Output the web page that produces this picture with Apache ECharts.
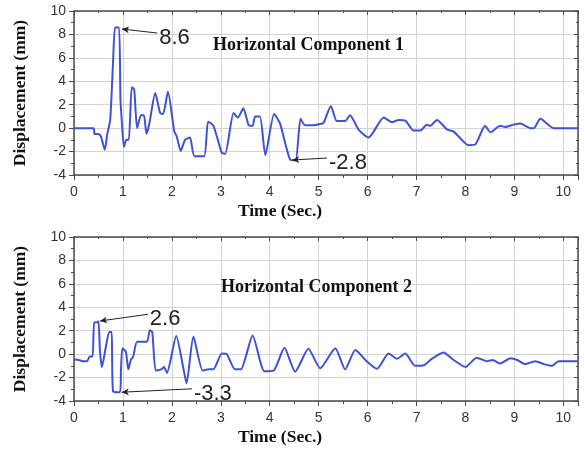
<!DOCTYPE html>
<html>
<head>
<meta charset="utf-8">
<script src="https://cdn.jsdelivr.net/npm/echarts@6/dist/echarts.min.js"></script>
<style>
  html, body { margin: 0; padding: 0; background: #fff; }
  #chart { width: 584px; height: 452px; }
</style>
</head>
<body>
<div id="chart"></div>
<script>
// time (s), displacement (mm)
var comp1 = [
  [0,0],[0.40,0],[0.42,-0.5],[0.50,-0.5],[0.55,-0.7],[0.63,-1.85],[0.68,-0.5],[0.74,0.7],
  [0.80,5.8],[0.84,8.6],[0.92,8.6],[0.95,2.4],[0.98,0.4],[1.02,-1.6],[1.07,-1.0],[1.12,-1.0],
  [1.18,3.5],[1.23,3.3],[1.29,0.0],[1.37,1.1],[1.43,1.1],[1.48,-0.5],[1.54,0.4],[1.66,3.0],
  [1.76,1.3],[1.82,1.2],[1.92,3.1],[2.05,-0.3],[2.10,-0.7],[2.18,-1.95],[2.27,-1.0],[2.37,-0.8],
  [2.46,-2.4],[2.66,-2.4],[2.74,0.55],[2.85,0.2],[3.02,-2.1],[3.09,-2.2],[3.26,1.3],[3.35,0.9],
  [3.46,1.7],[3.57,0.25],[3.65,0.2],[3.70,1.0],[3.80,1.0],[3.91,-2.3],[4.09,1.2],[4.21,0.4],
  [4.42,-2.7],[4.53,-2.75],[4.63,0.8],[4.72,0.25],[4.90,0.25],[5.03,0.35],[5.10,0.45],[5.25,1.9],
  [5.37,0.6],[5.54,0.6],[5.64,1.1],[5.82,-0.15],[6.02,-0.8],[6.33,0.9],[6.50,0.5],[6.63,0.7],
  [6.77,0.65],[6.94,-0.2],[7.08,-0.2],[7.21,0.3],[7.28,0.2],[7.42,0.7],[7.62,-0.1],[7.76,-0.3],
  [7.96,-1.15],[8.06,-1.45],[8.20,-1.4],[8.40,0.2],[8.51,-0.35],[8.71,0.2],[8.81,0.1],[8.98,0.3],
  [9.12,0.4],[9.33,0.0],[9.40,0.0],[9.53,0.8],[9.80,0.0],[10.3,0.0]
];
var comp2 = [
  [0,-0.45],[0.10,-0.5],[0.18,-0.6],[0.27,-0.6],[0.32,-0.2],[0.38,-0.2],[0.41,2.7],[0.46,2.7],
  [0.50,2.8],[0.53,0.3],[0.57,-1.1],[0.65,0.6],[0.72,1.9],[0.77,1.9],[0.80,-3.2],[0.94,-3.25],
  [0.96,-1.4],[0.99,0.5],[1.06,0.2],[1.11,-1.3],[1.16,-0.5],[1.21,-0.2],[1.29,1.05],[1.49,1.05],
  [1.55,2.05],[1.60,1.9],[1.67,-1.4],[1.78,-1.3],[1.84,-1.1],[1.90,-1.6],[2.09,1.55],[2.23,-1.1],
  [2.30,-2.5],[2.44,1.5],[2.63,-1.4],[2.75,-1.3],[2.85,-1.3],[3.02,0.05],[3.12,0.0],[3.29,-1.3],
  [3.41,-1.3],[3.65,1.6],[3.89,-1.45],[4.08,-1.4],[4.30,0.55],[4.52,-1.5],[4.79,0.45],[5.03,-1.2],
  [5.34,0.5],[5.54,-1.3],[5.75,0.35],[5.98,-0.6],[6.19,-1.25],[6.43,0.05],[6.60,-0.4],[6.77,0.05],
  [6.97,-1.0],[7.15,-0.95],[7.31,-0.4],[7.55,0.15],[7.76,-0.5],[8.00,-1.1],[8.23,-0.3],[8.44,-0.6],
  [8.56,-0.5],[8.71,-0.8],[8.92,-0.35],[9.06,-0.5],[9.22,-0.85],[9.43,-0.6],[9.60,-0.85],[9.77,-1.0],
  [9.90,-0.6],[10.3,-0.6]
];
// callouts: text, arrow tip, line end
var notes1 = [
  { text: '8.6', tip: [0.98, 8.46], end: [1.70, 8.12] },
  { text: '-2.8', tip: [4.46, -2.72], end: [5.17, -2.55] }
];
var notes2 = [
  { text: '2.6', tip: [0.53, 2.83], end: [1.51, 3.4] },
  { text: '-3.3', tip: [0.975, -3.25], end: [2.41, -2.96] }
];
var titles = ['Horizontal Component 1', 'Horizontal Component 2'];
var xName = 'Time (Sec.)';
var yName = 'Displacement (mm)';

var serif = '"Liberation Serif", "DejaVu Serif", serif';
var sans = '"Liberation Sans", Arial, sans-serif';
var boxColor = '#4a4a4a';

function xAxes(grid) {
  return [{
    gridIndex: grid, type: 'value', position: 'bottom', min: 0, max: 10.3, interval: 1,
    name: xName, nameLocation: 'middle', nameGap: 27,
    nameTextStyle: { fontFamily: serif, fontWeight: 'bold', fontSize: 17.5, color: '#111', padding: [0, 92, 0, 0] },
    axisLine: { show: true, onZero: false, lineStyle: { color: boxColor, width: 1.5 } },
    axisTick: { show: true, inside: false, length: 5, lineStyle: { color: boxColor } },
    minorTick: { show: true, splitNumber: 2, length: 3, lineStyle: { color: boxColor } },
    axisLabel: { margin: 10, fontFamily: sans, fontSize: 14, color: '#333',
      formatter: function (v) { return Math.abs(v - Math.round(v)) < 1e-6 ? String(Math.round(v)) : ''; } },
    splitLine: { show: true, lineStyle: { color: '#d4d4d4', width: 1 } }
  }, {
    gridIndex: grid, type: 'value', position: 'top', min: 0, max: 10.3, interval: 1,
    axisLine: { show: true, onZero: false, lineStyle: { color: boxColor, width: 1.5 } },
    axisTick: { show: true, inside: true, length: 4, lineStyle: { color: boxColor } },
    minorTick: { show: true, splitNumber: 2, length: 2, lineStyle: { color: boxColor } },
    axisLabel: { show: false }, splitLine: { show: false }
  }];
}
function yAxes(grid) {
  return [{
    gridIndex: grid, type: 'value', position: 'left', min: -4, max: 10, interval: 2,
    name: yName, nameLocation: 'middle', nameGap: 45,
    nameTextStyle: { fontFamily: serif, fontWeight: 'bold', fontSize: 17.5, color: '#111' },
    axisLine: { show: true, onZero: false, lineStyle: { color: boxColor, width: 1.5 } },
    axisTick: { show: true, inside: false, length: 5, lineStyle: { color: boxColor } },
    minorTick: { show: true, splitNumber: 2, length: 3, lineStyle: { color: boxColor } },
    axisLabel: { margin: 8, fontFamily: sans, fontSize: 14, color: '#333' },
    splitLine: { show: true, lineStyle: { color: '#d4d4d4', width: 1 } }
  }, {
    gridIndex: grid, type: 'value', position: 'right', min: -4, max: 10, interval: 2,
    axisLine: { show: true, onZero: false, lineStyle: { color: boxColor, width: 1.5 } },
    axisTick: { show: true, inside: true, length: 4, lineStyle: { color: boxColor } },
    minorTick: { show: true, splitNumber: 2, length: 2, lineStyle: { color: boxColor } },
    axisLabel: { show: false }, splitLine: { show: false }
  }];
}
function callouts(notes) {
  return {
    silent: true,
    symbol: ['arrow', 'none'],
    symbolSize: [5, 7],
    lineStyle: { color: '#222', width: 1, type: 'solid' },
    label: { show: true, position: 'end', distance: 2, offset: [0, 5], fontFamily: sans, fontSize: 22, color: '#222' },
    emphasis: { disabled: true },
    data: notes.map(function (n) {
      return [{ coord: n.tip, label: { formatter: n.text } }, { coord: n.end }];
    })
  };
}
function lineSeries(data, idx, notes) {
  return {
    type: 'line', data: data, xAxisIndex: idx * 2, yAxisIndex: idx * 2,
    showSymbol: false, smooth: 0.2,
    lineStyle: { color: '#3f51d6', width: 2 },
    markLine: callouts(notes)
  };
}

var titleStyle = { fontFamily: serif, fontWeight: 'bold', fontSize: 18, color: '#111' };
var chart = echarts.init(document.getElementById('chart'));
chart.setOption({
  animation: false,
  backgroundColor: '#fff',
  title: [
    { text: titles[0], left: 213, top: 36, textStyle: titleStyle, padding: 0 },
    { text: titles[1], left: 221, top: 278, textStyle: titleStyle, padding: 0 }
  ],
  grid: [
    { left: 74, top: 11, width: 504, height: 164 },
    { left: 74, top: 237, width: 504, height: 164 }
  ],
  xAxis: xAxes(0).concat(xAxes(1)),
  yAxis: yAxes(0).concat(yAxes(1)),
  series: [
    lineSeries(comp1, 0, notes1),
    lineSeries(comp2, 1, notes2)
  ]
});
</script>
</body>
</html>
